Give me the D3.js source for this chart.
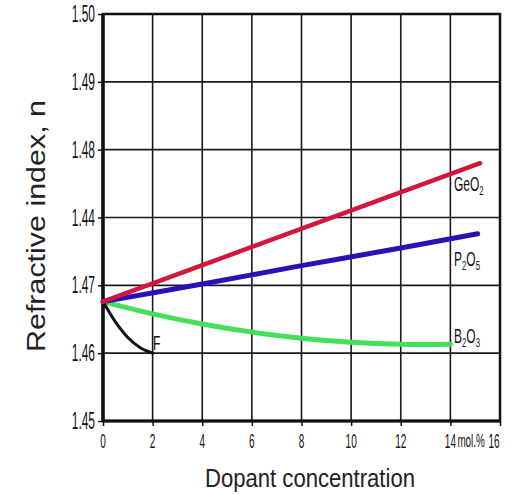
<!DOCTYPE html>
<html><head><meta charset="utf-8">
<script src="https://cdn.jsdelivr.net/npm/d3@7/dist/d3.min.js"></script>
<style>body{margin:0;background:#fff}svg{display:block}</style>
</head><body>
<svg id="c" width="513" height="494"></svg>
<script>
const xTicks = [0, 2, 4, 6, 8, 10, 12, 14, 16];
const xTickLabels = ["0", "2", "4", "6", "8", "10", "12", "14", "16"];
const xUnitLabel = "mol.%";
const yTicks = [1.45, 1.46, 1.47, 1.48, 1.49, 1.50, 1.51];
const yTickLabels = ["1.45", "1.46", "1.47", "1.44", "1.48", "1.49", "1.50"];

const geo2X = [0, 15.2];
const geo2Y = [1.4676, 1.4880];
const p2o5X = [0, 4, 8, 12, 15.1];
const p2o5Y = [1.4676, 1.4702, 1.4729, 1.4755, 1.4776];
const b2o3X = [0, 2, 4, 6, 8, 10, 12, 14];
const b2o3Y = [1.4676, 1.4658, 1.4643, 1.4631, 1.4622, 1.4616, 1.4613, 1.4613];
const fX = [0, 0.5, 1, 1.5, 2];
const fY = [1.4676, 1.4646, 1.4623, 1.4608, 1.4600];

const xTitle = "Dopant concentration";
const yTitle = "Refractive index, n";

const svg = d3.select("#c");
const x = d3.scaleLinear().domain([0, 16]).range([103, 500]);
const y = d3.scaleLinear().domain([1.45, 1.51]).range([421, 14]);

// grid
const g = svg.append("g");
g.selectAll("line.v").data(xTicks.slice(1, -1)).enter().append("line")
  .attr("x1", d => x(d)).attr("x2", d => x(d)).attr("y1", y(1.51)).attr("y2", y(1.45))
  .attr("stroke", "#1a1a1a").attr("stroke-width", 1.6);
g.selectAll("line.h").data(yTicks.slice(1, -1)).enter().append("line")
  .attr("x1", x(0)).attr("x2", x(16)).attr("y1", d => y(d)).attr("y2", d => y(d))
  .attr("stroke", "#1a1a1a").attr("stroke-width", 1.6);

// axes (ticks)
const xAxis = svg.append("g").attr("transform", `translate(0,${y(1.45)})`)
  .call(d3.axisBottom(x).tickValues(xTicks).tickSize(5).tickFormat(""));
const yAxis = svg.append("g").attr("transform", `translate(${x(0)},0)`)
  .call(d3.axisLeft(y).tickValues(yTicks).tickSize(5).tickFormat(""));
[xAxis, yAxis].forEach(a => {
  a.select(".domain").remove();
  a.selectAll(".tick line").attr("stroke", "#111").attr("stroke-width", 1.5);
});

// frame
svg.append("rect").attr("x", x(0)).attr("y", y(1.51))
  .attr("width", x(16) - x(0)).attr("height", y(1.45) - y(1.51))
  .attr("fill", "none").attr("stroke", "#111").attr("stroke-width", 2.5);
svg.append("line").attr("x1", x(0)).attr("x2", x(0)).attr("y1", y(1.51)).attr("y2", y(1.45))
  .attr("stroke", "#111").attr("stroke-width", 3.5);
svg.append("line").attr("x1", x(0)).attr("x2", x(16)).attr("y1", y(1.45)).attr("y2", y(1.45))
  .attr("stroke", "#111").attr("stroke-width", 3);

// tick labels (condensed)
const tf = "'Liberation Sans', Arial, sans-serif";
xTicks.forEach((t, i) => {
  const px = t === 16 ? x(t) - 6 : x(t);
  svg.append("text").attr("transform", `translate(${px},448) scale(0.5,1)`)
    .attr("text-anchor", "middle").attr("font-family", tf).attr("font-size", 20)
    .attr("fill", "#111").text(xTickLabels[i]);
});
svg.append("text").attr("transform", `translate(${x(14) + 7},447) scale(0.55,1)`)
  .attr("text-anchor", "start").attr("font-family", tf).attr("font-size", 18)
  .attr("fill", "#111").text(xUnitLabel);
yTicks.forEach((t, i) => {
  svg.append("text").attr("transform", `translate(95,${y(t) + 8}) scale(0.52,1)`)
    .attr("text-anchor", "end").attr("font-family", tf).attr("font-size", 23)
    .attr("fill", "#111").text(yTickLabels[i]);
});

// series
const line = d3.line().x(d => x(d[0])).y(d => y(d[1])).curve(d3.curveCatmullRom.alpha(0.5));
const zip = (a, b) => a.map((v, i) => [v, b[i]]);
const series = [
  {X: b2o3X, Y: b2o3Y, c: "#44e05a", w: 5},
  {X: fX, Y: fY, c: "#111", w: 3},
  {X: p2o5X, Y: p2o5Y, c: "#2a10b8", w: 5},
  {X: geo2X, Y: geo2Y, c: "#d3163c", w: 4.5}
];
series.forEach(s => {
  svg.append("path").attr("d", line(zip(s.X, s.Y))).attr("fill", "none")
    .attr("stroke", s.c).attr("stroke-width", s.w).attr("stroke-linecap", "round");
});

// series labels
function chem(px, py, parts) {
  const t = svg.append("text").attr("transform", `translate(${px},${py}) scale(0.6,1)`)
    .attr("font-family", tf).attr("font-size", 20).attr("fill", "#111");
  parts.forEach(p => {
    t.append("tspan").attr("font-size", p[1] ? 13 : 20).attr("dy", p[1] ? 4 : (p[2] || 0)).text(p[0]);
  });
}
chem(454, 191, [["GeO"], ["2", true]]);
chem(454, 266, [["P"], ["2", true], ["O", false, -4], ["5", true]]);
chem(454, 343, [["B"], ["2", true], ["O", false, -4], ["3", true]]);
chem(153, 350, [["F"]]);

// axis titles
svg.append("text").attr("x", 205).attr("y", 487).attr("font-family", "'Liberation Sans', Arial, sans-serif")
  .attr("font-size", 25).attr("fill", "#222").attr("textLength", 210).attr("lengthAdjust", "spacingAndGlyphs")
  .text(xTitle);
svg.append("text").attr("transform", "translate(45,352) rotate(-90)")
  .attr("font-family", "'Liberation Sans', Arial, sans-serif")
  .attr("font-size", 25).attr("fill", "#222").attr("textLength", 252).attr("lengthAdjust", "spacingAndGlyphs")
  .text(yTitle);
</script>
</body></html>
